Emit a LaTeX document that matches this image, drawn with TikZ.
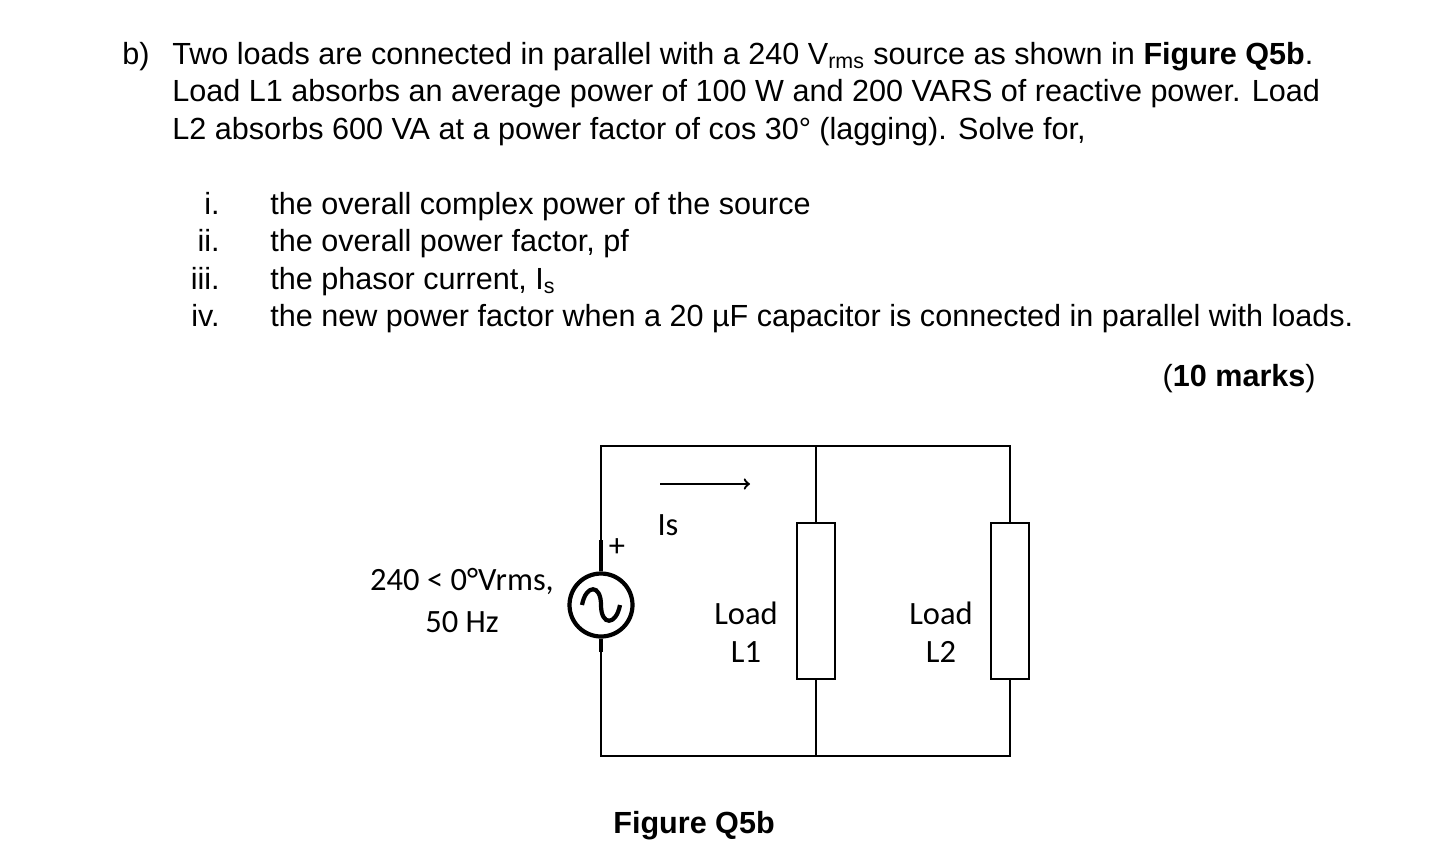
\documentclass[tikz,border=0pt]{standalone}
\usepackage{fontspec}
\setmainfont{Liberation Sans}
\newfontfamily\carlfont{Carlito}
\begin{document}
\begin{tikzpicture}[x=0.02cm,y=-0.02cm,
  txt/.style={anchor=base west,inner sep=0,font=\fontsize{17.4}{20}\selectfont},
  num/.style={anchor=base east,inner sep=0,font=\fontsize{17.4}{20}\selectfont},
  lab/.style={inner sep=0,font=\carlfont\fontsize{18.5}{22}\selectfont},
  wire/.style={line width=1.2pt},
  loadbox/.style={draw,line width=1.2pt,minimum width=0.76cm,minimum height=3.12cm,inner sep=0}]
\useasboundingbox (0,0) rectangle (1440,849);
\node[txt] (b) at (122,64) {b)};
\node[txt] (l1) at (172,64) {Two loads are connected in parallel with a 240 V\textsubscript{rms} source as shown in \textbf{Figure Q5b}.};
\node[txt] (l2) at (172,101) {Load L1 absorbs an average power of 100 W and 200 VARS of reactive power. Load};
\node[txt] (l3) at (172,139) {L2 absorbs 600 VA at a power factor of cos 30\textdegree\ (lagging). Solve for,};
\node[num] (n1) at (220,214) {i.};
\node[num] (n2) at (220,251) {ii.};
\node[num] (n3) at (220,289) {iii.};
\node[num] (n4) at (220,326) {iv.};
\node[txt] (t1) at (270,214) {the overall complex power of the source};
\node[txt] (t2) at (270,251) {the overall power factor, pf};
\node[txt] (t3) at (270,289) {the phasor current, I\textsubscript{s}};
\node[txt] (t4) at (270,326) {the new power factor when a 20 µF capacitor is connected in parallel with loads.};
\node[anchor=base east,inner sep=0,font=\fontsize{17.4}{20}\selectfont] (mk) at (1316,386) {(\textbf{10 marks})};
% circuit
\coordinate (tl) at (601,446); \coordinate (tm) at (816,446); \coordinate (tr) at (1010,446);
\coordinate (bl) at (601,756); \coordinate (bm) at (816,756); \coordinate (br) at (1010,756);
\node[draw,circle,line width=2.4pt,minimum size=1.26cm,inner sep=0] (src) at (601,605) {};
\draw[line width=2.4pt] (582,605) .. controls (586,584) and (601,584) .. (601,605) .. controls (601,626) and (616,626) .. (620,605);
\node[loadbox] (L1) at (816,601) {};
\node[loadbox] (L2) at (1010,601) {};
\draw[wire] (src.north) -- (tl) -- (tr) -- (L2.north);
\draw[wire] (tm) -- (L1.north);
\draw[wire] (src.south) -- (bl) -- (br) -- (L2.south);
\draw[wire] (bm) -- (L1.south);
\draw[line width=2pt] (601,540) -- (src.north);
\draw[line width=2pt] (601,652) -- (src.south);
\coordinate (a1) at (660,484); \coordinate (a2) at (750,484);
\draw[line width=1.3pt,-{>[scale=1.4]}] (a1) -- (a2);
\node[lab] (plus) at (617,548) {+};
\node[lab] (is) at (668,525) {Is};
\node[lab] (v1) at (462,581) {240 < 0\textdegree Vrms,};
\node[lab] (v2) at (462,622) {50 Hz};
\node[lab] (ld1) at (746,613) {Load};
\node[lab] (ld1b) at (746,652) {L1};
\node[lab] (ld2) at (941,613) {Load};
\node[lab] (ld2b) at (941,652) {L2};
\node[inner sep=0,font=\bfseries\fontsize{17.4}{20}\selectfont] (fig) at (694,826) {Figure Q5b};
\end{tikzpicture}
\end{document}
